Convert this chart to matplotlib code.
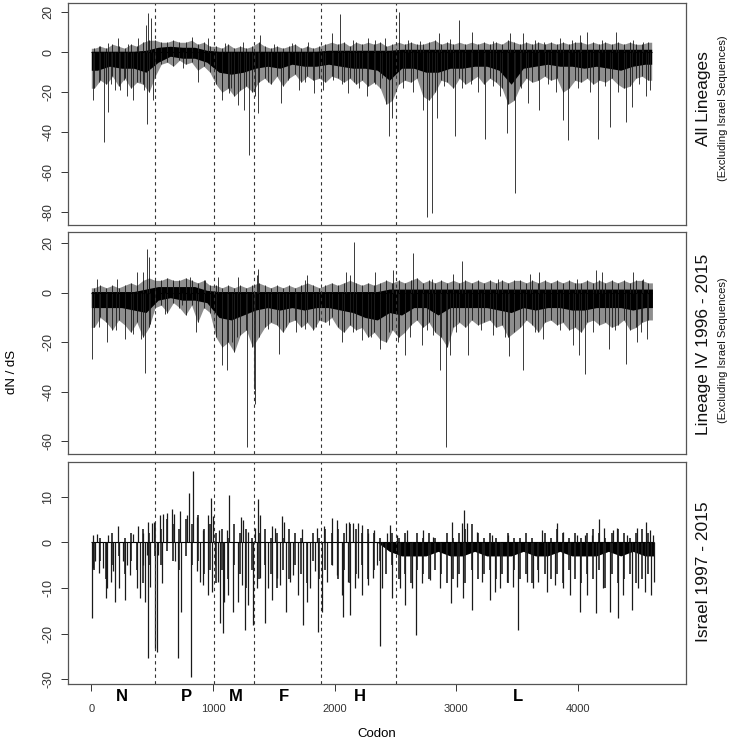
import numpy as np
import matplotlib
matplotlib.use('Agg')
import matplotlib.pyplot as plt
import matplotlib.transforms as mtransforms

plt.rcParams['font.family'] = ['Liberation Sans', 'DejaVu Sans']

# ----------------------------------------------
#   data (codon, dN/dS)
# ----------------------------------------------
gene_bounds = [522, 1013, 1339, 1886, 2503]
gene_names = ['N', 'P', 'M', 'F', 'H', 'L']
gene_mid = [251, 779, 1192, 1580, 2211, 3507]
xticks = [0, 1000, 2000, 3000, 4000]

# solid band, one value per 100-codon block (0-100, 100-200, ...)
block_mid = list(range(50, 4600, 100))
# ragged outline of the dense bars, one value per 50-codon block
comb_pos = list(range(25, 4600, 50))

all_core_lo = [-9, -7, -8, -8, -10, -5, -2, -3, -3, -5, -10, -11, -10, -8, -7, -8,
               -6, -7, -7, -6, -7, -8, -8, -9, -14, -8, -8, -10, -10, -8, -8, -7,
               -7, -9, -16, -8, -7, -6, -7, -7, -8, -7, -8, -9, -7, -6]
all_core_hi = [0.5, 0.5, 0.5, 0.5, 1, 2.5, 3, 2.5, 2.5, 1, 0.5, 0.5, 0.5, 0.5, 0.5, 0.5,
               0.5, 0.5, 0.5, 1, 1, 1, 1, 1, 1, 1.5, 1.5, 1.5, 1.5, 1.5, 1.5, 1.5,
               1.5, 1.5, 1.5, 1.5, 1.5, 1.5, 1.5, 1.5, 1.5, 1.5, 1.5, 1.5, 1.5, 1.5]
all_comb_lo = [-18, -14, -16, -12, -17, -13, -18, -15, -16, -20,
               -12, -6, -5, -7, -4, -6, -5, -9, -7, -10,
               -16, -20, -18, -22, -19, -17, -20, -15, -13, -16,
               -12, -17, -13, -11, -15, -12, -14, -13, -15, -12,
               -13, -15, -13, -16, -14, -17, -15, -18, -26, -24,
               -16, -14, -15, -13, -22, -24, -20, -14, -15, -18,
               -13, -16, -14, -12, -16, -13, -15, -18, -26, -24,
               -17, -13, -15, -14, -12, -14, -13, -20, -18, -14,
               -15, -13, -16, -14, -15, -13, -16, -18, -17, -13,
               -12, -14]
all_comb_hi = [2, 3, 2, 4, 3, 2, 4, 3, 5, 6,
               6, 5, 5, 6, 5, 5, 6, 4, 5, 3,
               3, 2, 4, 2, 3, 2, 3, 5, 3, 2,
               3, 2, 3, 4, 2, 3, 2, 3, 4, 5,
               4, 5, 3, 5, 4, 5, 4, 5, 3, 4,
               5, 4, 5, 4, 4, 5, 6, 4, 5, 4,
               5, 4, 5, 4, 5, 4, 5, 4, 6, 5,
               4, 5, 4, 5, 4, 5, 4, 5, 4, 5,
               5, 4, 5, 4, 5, 4, 5, 4, 5, 4,
               4, 5]
all_end = 4605
all_up_pos = [60, 141, 223, 300, 387, 450, 470, 491, 826, 963, 1100, 1250, 1387, 1500, 1650,
              1784, 1976, 2047, 2150, 2277, 2330, 2414, 2532, 2600, 2700, 2860, 2950, 3025,
              3126, 3300, 3440, 3551, 3650, 3723, 3852, 3950, 4016, 4071, 4200, 4312, 4450, 4537]
all_up_val = [3, 4.5, 7, 4, 7, 13.6, 19.8, 17, 7.5, 7, 4.5, 5, 8.6, 4, 4.5,
              5.3, 9.5, 19, 6, 7, 6, 7, 20.3, 6, 5.5, 9.5, 6.5, 16.2,
              10.3, 5.5, 9.5, 9.5, 6, 5.3, 7, 6, 8.6, 10.3, 6, 10.3, 6, 5.3]
all_dn_pos = [18, 60, 105, 135, 160, 196, 237, 270, 292, 346, 400, 434, 461, 505, 757, 880,
              1072, 1133, 1150, 1209, 1258, 1297, 1346, 1368, 1450, 1557, 1620, 1708, 1760,
              1834, 1908, 1990, 2060, 2113, 2160, 2201, 2269, 2330, 2387, 2450, 2469, 2560,
              2640, 2729, 2756, 2803, 2839, 2900, 2989, 3050, 3120, 3180, 3236, 3300, 3360,
              3414, 3482, 3530, 3592, 3682, 3750, 3820, 3880, 3920, 4000, 4100, 4162, 4220,
              4263, 4330, 4392, 4441, 4500, 4560, 4592]
all_dn_val = [-23.8, -15, -44.7, -29.7, -16, -19, -18.8, -14, -22, -23.8, -15, -18.8, -35.8,
              -23.8, -8, -14.7, -23.8, -20.5, -18, -26.4, -28.8, -51.3, -22, -30.2, -15,
              -25.5, -14, -18.8, -15, -20.5, -18.8, -14, -16, -20.5, -15, -18, -22, -16, -13,
              -42, -33, -18, -20, -28.8, -82.2, -80.5, -33, -17, -42, -18, -16, -20, -43.5,
              -17, -22, -40.5, -70.2, -18, -25.5, -28.8, -16, -20, -33.9, -43.8, -18, -20,
              -43.5, -17, -37.2, -20, -34.7, -27.2, -16, -22, -18.8]

lin_core_lo = [-6, -6, -6, -7, -8, -3, -2, -3, -3, -4, -10, -11, -9, -7, -6, -7,
               -6, -7, -6, -6, -7, -8, -10, -11, -8, -9, -6, -6, -9, -6, -6, -6,
               -6, -7, -8, -6, -7, -6, -6, -7, -7, -6, -6, -6, -7, -6]
lin_core_hi = [0.5, 0.5, 0.5, 0.5, 1.5, 2.5, 2.5, 2.5, 2.5, 1, 0.5, 0.5, 0.5, 0.5, 0.5, 0.5,
               0.5, 0.5, 0.5, 0.5, 0.5, 0.5, 0.5, 0.5, 1.5, 1.5, 1.5, 1.5, 1.5, 1.5, 1.5, 1.5,
               1.5, 1.5, 1.5, 1.5, 1.5, 1.5, 1.5, 1.5, 1.5, 1.5, 1.5, 1.5, 1.5, 1.5]
lin_comb_lo = [-14, -10, -12, -15, -11, -13, -16, -12, -18, -14,
               -6, -5, -8, -4, -6, -9, -5, -12, -6, -8,
               -18, -22, -20, -24, -17, -15, -22, -18, -14, -12,
               -13, -16, -12, -11, -14, -12, -15, -11, -12, -10,
               -14, -16, -13, -15, -14, -18, -16, -19, -20, -15,
               -18, -16, -13, -11, -14, -12, -16, -18, -22, -14,
               -12, -14, -11, -13, -12, -11, -14, -13, -18, -16,
               -14, -11, -13, -16, -12, -11, -13, -12, -15, -14,
               -16, -12, -11, -13, -12, -14, -13, -11, -15, -14,
               -12, -11]
lin_comb_hi = [2, 3, 2, 3, 2, 3, 4, 3, 5, 6,
               5, 5, 6, 5, 5, 6, 5, 4, 5, 3,
               3, 2, 3, 2, 3, 2, 3, 4, 3, 2,
               3, 2, 3, 2, 3, 4, 3, 2, 3, 4,
               3, 4, 5, 4, 3, 4, 3, 4, 5, 4,
               5, 4, 5, 6, 4, 5, 4, 5, 4, 5,
               4, 5, 4, 5, 4, 5, 4, 5, 4, 5,
               5, 4, 5, 4, 5, 4, 5, 4, 5, 4,
               4, 5, 4, 5, 4, 5, 4, 5, 4, 5,
               5, 4]
lin_end = 4611
lin_up_pos = [45, 209, 374, 428, 456, 475, 675, 812, 935, 1045, 1209, 1360, 1373, 1757, 1776,
              2091, 2127, 2157, 2332, 2483, 2641, 2797, 2970, 3044, 3345, 3605, 3682, 3989,
              4148, 4200, 4449, 4537]
lin_up_val = [5.7, 5.7, 8.4, 8.4, 17.8, 14.4, 4.3, 6.3, 5, 6.3, 6.3, 7, 9.7, 5, 7,
              8.4, 7, 20.7, 8.4, 9, 16.2, 5.7, 7.7, 12.8, 5.7, 7.7, 8.4, 5.7,
              9, 8.4, 8.4, 5.7]
lin_dn_pos = [4, 60, 127, 200, 278, 346, 407, 442, 483, 607, 743, 858, 1072, 1113, 1160, 1200,
              1283, 1340, 1346, 1456, 1543, 1600, 1680, 1757, 1850, 1950, 2058, 2150, 2222,
              2300, 2373, 2450, 2520, 2578, 2620, 2715, 2760, 2811, 2866, 2915, 2948, 3000,
              3093, 3200, 3300, 3400, 3436, 3545, 3650, 3715, 3850, 3962, 4011, 4057, 4120,
              4252, 4300, 4394, 4482, 4520, 4564]
lin_dn_val = [-26.7, -14, -20, -15, -18.6, -16.6, -18.6, -32.3, -12.5, -8.5, -5.1, -15.9,
              -29.4, -31.4, -20, -18, -62.4, -38.8, -44.8, -14.5, -24.6, -14, -16, -14.5,
              -14, -13, -20, -16, -19.3, -18, -22.6, -16, -20, -25.3, -18, -21.3, -15,
              -17.2, -31.4, -62.4, -25.3, -16, -25.3, -15, -17, -18, -25.6, -31.1, -16,
              -18.6, -15, -21.3, -25.3, -32.7, -16, -22.6, -15, -28.7, -20, -16, -18.6]

isr_core_lo = [0, 0, 0, 0, 0, 0, 0, 0, 0, 0, 0, 0, 0, 0, 0, 0,
               0, 0, 0, 0, 0, 0, 0, 0, -2, -3, -3, -3, -2, -3, -3, -2,
               -3, -3, -3, -2, -3, -3, -2, -3, -3, -3, -2, -3, -2, -3]
isr_core_hi = [0] * 46
isr_comb_lo = [-6, -4, -8, -5, -3, -7, -4, -6, -9, -5,
               -3, -5, -2, -4, -6, -3, -5, -4, -7, -6,
               -9, -6, -8, -5, -7, -10, -6, -8, -5, -7,
               -10, -6, -8, -5, -7, -9, -4, -8, -6, -5,
               -8, -6, -9, -7, -5, -8, -6, -4, -7, -5,
               -8, -7, -9, -6, -7, -8, -6, -7, -9, -8,
               -7, -9, -6, -8, -7, -6, -8, -7, -9, -6,
               -8, -7, -9, -6, -7, -8, -7, -9, -6, -8,
               -9, -7, -8, -6, -10, -7, -9, -8, -7, -9,
               -8, -7]
isr_comb_hi = [0, 1, 0, 2, 0, 1, 2, 0, 3, 2,
               4, 3, 5, 4, 3, 5, 4, 6, 3, 4,
               2, 3, 1, 4, 2, 3, 1, 2, 3, 1,
               2, 1, 3, 2, 1, 0, 2, 1, 3, 2,
               3, 2, 4, 3, 2, 3, 2, 1, 0, 2,
               1, 2, 0, 2, 1, 2, 1, 0, 2, 1,
               2, 3, 4, 2, 1, 2, 1, 0, 2, 1,
               1, 2, 1, 0, 2, 1, 3, 2, 1, 2,
               1, 2, 3, 2, 1, 2, 3, 2, 1, 2,
               3, 2]
isr_end = 4625
isr_up_pos = [18, 45, 135, 218, 341, 387, 423, 464, 497, 516, 565, 593, 620, 661, 683, 730,
              785, 806, 834, 867, 916, 963, 985, 1004, 1053, 1113, 1135, 1231, 1250, 1291,
              1346, 1373, 1387, 1483, 1510, 1565, 1587, 1729, 1853, 1916, 1982, 2017, 2091,
              2119, 2154, 2190, 2222, 2277, 2327, 2428, 2455, 2510, 2598, 2729, 2811, 2962,
              3044, 3066, 3085, 3167, 3291, 3428, 3701, 3830, 3874, 3989, 4057, 4112, 4175,
              4214, 4290, 4323, 4400, 4482, 4559, 4592, 4619]
isr_up_val = [1.6, 1.8, 1.6, 3.6, 1.8, 3.6, 2, 4.5, 4.2, 4.5, 6, 6.1, 6.4, 7.3, 6.1, 6.9,
              6, 10.7, 15.6, 5.6, 2.7, 6, 9.6, 5.8, 2.7, 2.7, 10.4, 5.6, 4.9, 2.2,
              3.1, 9.4, 6, 3.6, 3.1, 5.8, 4.5, 2.9, 3.1, 3.6, 5.3, 4.9, 4.3,
              4.5, 4.2, 4.2, 3.8, 2, 2.7, 2, 3.8, 1.6, 2.7, 2.7, 1.2, 4.5,
              4.2, 7.1, 4.2, 2.3, 1.6, 1.6, 2.7, 4.2, 2.3, 1.6, 1.6, 1.6, 5.1,
              3.1, 2.7, 3.1, 1.6, 3.1, 4.4, 2.7, 1.6]
isr_dn_pos = [9, 18, 31, 64, 100, 119, 133, 163, 182, 196, 231, 264, 278, 297, 319, 379, 401,
              428, 442, 456, 470, 483, 524, 538, 552, 585, 689, 711, 738, 820, 867, 894, 922,
              963, 990, 1017, 1045, 1058, 1086, 1094, 1127, 1168, 1204, 1237, 1264, 1291,
              1332, 1360, 1387, 1428, 1456, 1483, 1524, 1551, 1598, 1634, 1661, 1702, 1743,
              1771, 1798, 1839, 1866, 1899, 1935, 1976, 2017, 2058, 2072, 2107, 2127, 2168,
              2195, 2228, 2277, 2318, 2346, 2373, 2392, 2469, 2537, 2578, 2633, 2666, 2715,
              2784, 2866, 2954, 3008, 3052, 3126, 3208, 3277, 3318, 3359, 3414, 3463, 3510,
              3578, 3627, 3674, 3742, 3811, 3880, 3934, 4016, 4071, 4148, 4208, 4263, 4331,
              4372, 4447, 4496, 4551, 4597, 4625]
isr_dn_val = [-16.6, -5.7, -4.2, -6.8, -5.7, -12.3, -10, -8.6, -6.4, -13, -10, -4.2, -12.6,
              -5, -7.2, -10, -12.3, -5, -13, -2.8, -25.4, -9.7, -23.2, -24, -2.8, -9, -4.2,
              -25.4, -15.2, -29.4, -6.4, -8.6, -9.3, -11.5, -10.8, -5, -8.6, -17.7, -19.9,
              -13, -11.5, -15.2, -13, -9.3, -19.2, -13.7, -18.1, -10, -7.9, -17.7, -10,
              -12.6, -7.9, -9.3, -15.2, -8.6, -7.2, -11.5, -18.1, -13, -10, -6.4, -19.6,
              -15.2, -8.6, -5, -7.2, -11.5, -16.3, -8.6, -15.9, -10, -7.9, -11.5, -9.3,
              -7.9, -5, -22.8, -10, -12.3, -10, -13.7, -10, -20.3, -9, -8.2, -10, -13.4,
              -9.7, -12.3, -14.8, -8.6, -12.6, -10.8, -10, -8.6, -9.7, -19.2, -8.6, -10,
              -8.6, -10.8, -9.3, -10, -11.5, -15.2, -11.5, -15.5, -10, -15.2, -16.6,
              -11.5, -14.8, -10, -10.8, -11.5, -8.6]

panel_titles = ['All Lineages', 'Lineage IV 1996 - 2015', 'Israel 1997 - 2015']
panel_sub = ['(Excluding Israel Sequences)', '(Excluding Israel Sequences)', '']

# ----------------------------------------------
#                 FIGURE
# ----------------------------------------------
fig = plt.figure(figsize=(7.33, 7.43), dpi=100)

panels = [
    dict(box=[0.0932, 0.6972, 0.8427, 0.2992], ylim=(-86.4, 24.8), yticks=[-80, -60, -40, -20, 0, 20],
         lo=all_core_lo, hi=all_core_hi, clo=all_comb_lo, chi=all_comb_hi, end=all_end,
         up=(all_up_pos, all_up_val), dn=(all_dn_pos, all_dn_val), lw=0.6, ragged=True,
         title_y=(0.867, 0.855)),
    dict(box=[0.0932, 0.3886, 0.8427, 0.2996], ylim=(-65.3, 24.7), yticks=[-60, -40, -20, 0, 20],
         lo=lin_core_lo, hi=lin_core_hi, clo=lin_comb_lo, chi=lin_comb_hi, end=lin_end,
         up=(lin_up_pos, lin_up_val), dn=(lin_dn_pos, lin_dn_val), lw=0.6, ragged=True,
         title_y=(0.536, 0.529)),
    dict(box=[0.0932, 0.0790, 0.8427, 0.2988], ylim=(-31.1, 17.5), yticks=[-30, -20, -10, 0, 10],
         lo=isr_core_lo, hi=isr_core_hi, clo=isr_comb_lo, chi=isr_comb_hi, end=isr_end,
         up=(isr_up_pos, isr_up_val), dn=(isr_dn_pos, isr_dn_val), lw=0.9, ragged=False,
         title_y=(0.230, 0.230)),
]

axes = []
for i, p in enumerate(panels):
    ax = fig.add_axes(p['box'])
    axes.append(ax)

    # ragged outline of the dense bars: grey haze plus the deepest bar of each block
    if p['ragged']:
        cx = np.r_[1, comb_pos, p['end']]
        clo = np.r_[p['clo'][0], p['clo'], p['clo'][-1]]
        chi = np.r_[p['chi'][0], p['chi'], p['chi'][-1]]
        ax.fill_between(cx, clo, chi, color='#8e8e8e', linewidth=0)
        ax.vlines(comb_pos, p['clo'], p['chi'], color='#1e1e1e', linewidth=0.65)
    else:
        ax.vlines(comb_pos, p['clo'], p['chi'], color='#222222', linewidth=1.2)

    # solid band of codons
    bx = np.r_[1, block_mid, p['end']]
    blo = np.r_[p['lo'][0], p['lo'], p['lo'][-1]]
    bhi = np.r_[p['hi'][0], p['hi'], p['hi'][-1]]
    ax.fill_between(bx, blo, bhi, color='black', linewidth=0)
    ax.hlines(0, 1, p['end'], color='black', linewidth=0.8)

    # individual codon bars
    ax.vlines(p['up'][0], 0, p['up'][1], color='#1a1a1a', linewidth=p['lw'])
    ax.vlines(p['dn'][0], 0, p['dn'][1], color='#1a1a1a', linewidth=p['lw'])

    for b in gene_bounds:
        ax.axvline(b, color='#333333', linewidth=0.8, linestyle=(0, (3, 3)))

    ax.set_xlim(-188, 4887)
    ax.set_ylim(*p['ylim'])
    ax.set_yticks(p['yticks'])
    ax.set_yticklabels([str(t) for t in p['yticks']], rotation=90, va='center')
    ax.tick_params(axis='y', length=5, width=0.7, pad=5, labelsize=9, colors='#333333')
    for s in ax.spines.values():
        s.set_color('#555555')
        s.set_linewidth(0.9)

    fig.text(0.960, p['title_y'][0], panel_titles[i], rotation=90, ha='center', va='center',
             fontsize=12.5, color='#111111')
    if panel_sub[i]:
        fig.text(0.986, p['title_y'][1], panel_sub[i], rotation=90, ha='center', va='center',
                 fontsize=8, color='#111111')

    if i < 2:
        ax.set_xticks([])
    else:
        ax.set_xticks(xticks)
        ax.set_xticklabels([str(t) for t in xticks])
        ax.tick_params(axis='x', length=5, width=0.7, pad=9, labelsize=8, colors='#333333')

# gene letters under the bottom panel
ax3 = axes[2]
trans = mtransforms.blended_transform_factory(ax3.transData, ax3.transAxes)
for name, m in zip(gene_names, gene_mid):
    ax3.text(m, -0.057, name, transform=trans, ha='center', va='center', fontsize=12,
             fontweight='bold', family=['Liberation Sans Narrow', 'Liberation Sans'])

ax3.text(0.5, -0.224, 'Codon', transform=ax3.transAxes, ha='center', va='center', fontsize=9.5)
fig.text(0.017, 0.5, 'dN / dS', rotation=90, ha='center', va='center', fontsize=9.5)

plt.savefig('out.png', dpi=100)
print("generated out.png")
